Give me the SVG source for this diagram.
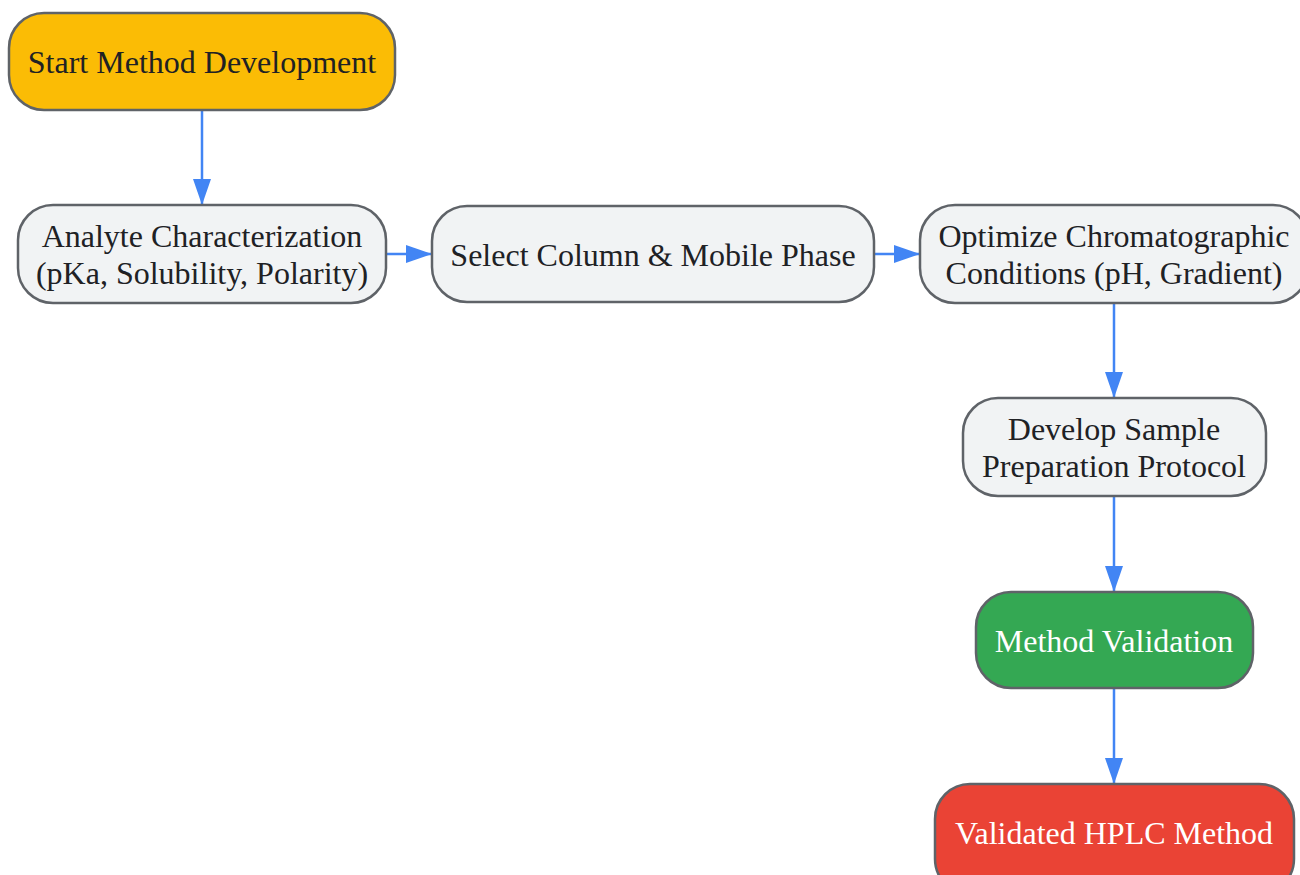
<svg xmlns="http://www.w3.org/2000/svg" width="1300" height="875" viewBox="0 0 1300 875">
<style>
.n{stroke:#5f6368;stroke-width:2.5}
.g{fill:#f1f3f4}
.t{font-family:"Liberation Serif","Times New Roman",serif;font-size:32px;fill:#202124;text-anchor:middle;dominant-baseline:central}
.w{fill:#ffffff}
.e{stroke:#4285f4;stroke-width:2.5;fill:none;marker-end:url(#ah)}
</style>
<defs>
<marker id="ah" markerWidth="26" markerHeight="18" refX="26" refY="9" orient="auto" markerUnits="userSpaceOnUse">
<path d="M0,0 L26,9 L0,18 Z" fill="#4285f4"/>
</marker>
</defs>
<rect width="1300" height="875" fill="#ffffff"/>
<g id="edges">
<path class="e" d="M202,110 V205"/>
<path class="e" d="M386,254 H432"/>
<path class="e" d="M874,254 H920"/>
<path class="e" d="M1114,303 V398"/>
<path class="e" d="M1114,496 V592"/>
<path class="e" d="M1114,688 V784"/>
</g>
<g id="start">
<rect class="n" x="9" y="13" width="386" height="97" rx="35" fill="#fbbc05"/>
<text class="t" x="202" y="62">Start Method Development</text>
</g>
<g id="analyte">
<rect class="n g" x="18" y="205" width="368" height="98" rx="35"/>
<text class="t" x="202" y="236">Analyte Characterization</text>
<text class="t" x="202" y="273">(pKa, Solubility, Polarity)</text>
</g>
<g id="select">
<rect class="n g" x="432" y="206" width="442" height="96" rx="35"/>
<text class="t" x="653" y="255">Select Column &amp; Mobile Phase</text>
</g>
<g id="optimize">
<rect class="n g" x="920" y="205" width="388" height="98" rx="35"/>
<text class="t" x="1114" y="236">Optimize Chromatographic</text>
<text class="t" x="1114" y="273">Conditions (pH, Gradient)</text>
</g>
<g id="develop">
<rect class="n g" x="963" y="398" width="303" height="98" rx="35"/>
<text class="t" x="1114" y="429">Develop Sample</text>
<text class="t" x="1114" y="466">Preparation Protocol</text>
</g>
<g id="validation">
<rect class="n" x="976" y="592" width="277" height="96" rx="35" fill="#34a853"/>
<text class="t w" x="1114" y="641">Method Validation</text>
</g>
<g id="validated">
<rect class="n" x="935" y="784" width="359" height="110" rx="35" fill="#ea4335"/>
<text class="t w" x="1114" y="833">Validated HPLC Method</text>
</g>
</svg>
